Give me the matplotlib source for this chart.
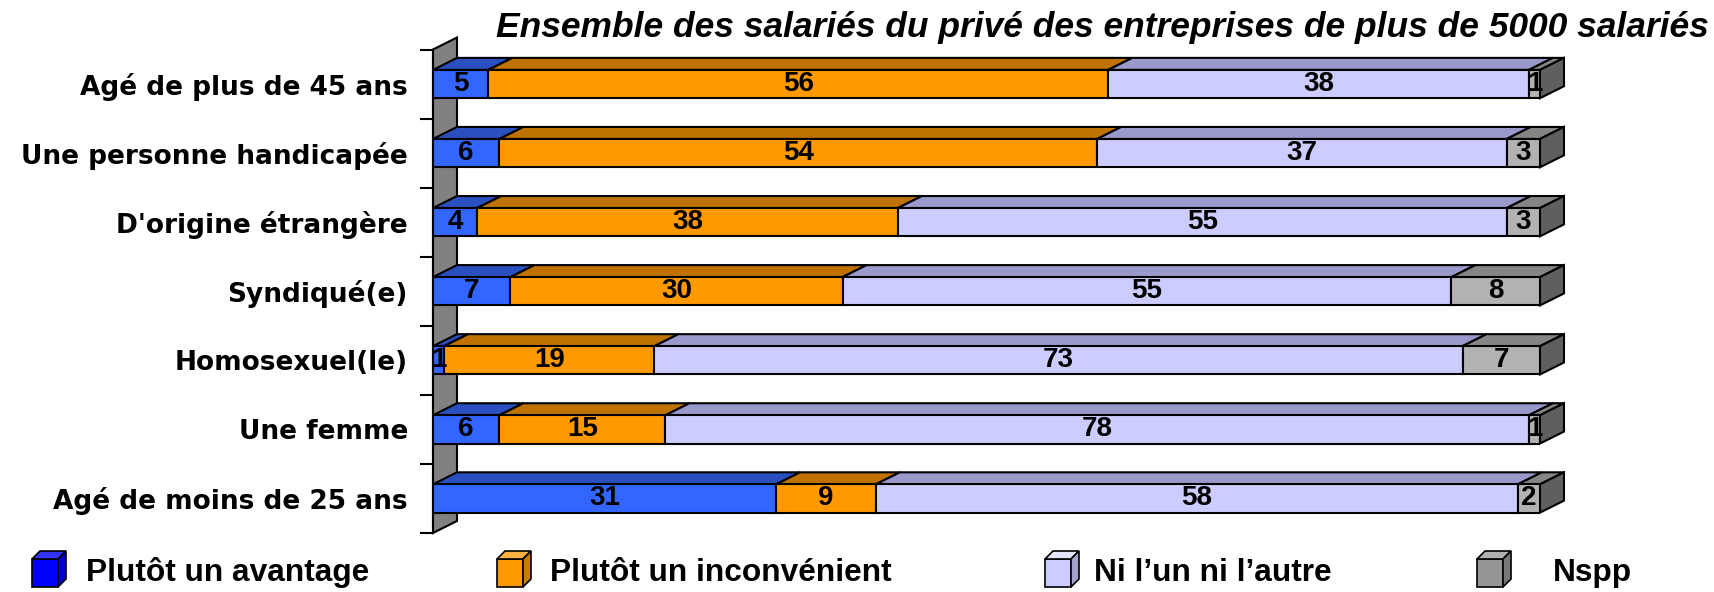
import numpy as np
import matplotlib
matplotlib.use("Agg")
import matplotlib.pyplot as plt
from matplotlib.patches import Polygon

W, H = 1715, 592

categories = ["Agé de plus de 45 ans", "Une personne handicapée",
              "D'origine étrangère", "Syndiqué(e)", "Homosexuel(le)",
              "Une femme", "Agé de moins de 25 ans"]
avantage = [5, 6, 4, 7, 1, 6, 31]
inconvenient = [56, 54, 38, 30, 19, 15, 9]
ni_lun = [38, 37, 55, 55, 73, 78, 58]
nspp = [1, 3, 3, 8, 7, 1, 2]
series_names = ["Plutôt un avantage", "Plutôt un inconvénient",
                "Ni l\u2019un ni l\u2019autre", "Nspp"]
title = "Ensemble des salariés du privé des entreprises de plus de 5000 salariés"

front_cols = ["#3366FF", "#FF9900", "#CCCCFF", "#B2B2B2"]
top_cols = ["#2A4FBF", "#BF7200", "#9999CC", "#858585"]
side_col = "#5F5F5F"
leg_cols = [("#0000FF", "#3333FF", "#0000CC"),
            ("#FF9900", "#FFB240", "#CC7A00"),
            ("#CCCCFF", "#E5E5FF", "#A3A3CC"),
            ("#969696", "#B0B0B0", "#787878")]

plt.rcParams['font.family'] = ['Liberation Sans', 'DejaVu Sans']

fig = plt.figure(figsize=(W / 100, H / 100), dpi=100)
ax = fig.add_axes([433 / W, (H - 533) / H, 1107 / W, (533 - 49.5) / H])

n = len(categories)
y = np.arange(n)[::-1]
data = np.array([avantage, inconvenient, ni_lun, nspp])
ax.set_xlim(0, 100)
ax.set_ylim(-0.5, n - 0.5)

DX = 24 / 11.07
DY = 12 / 69.1
h = 0.41

# back wall
wall = Polygon([(0, -0.5), (0, n - 0.5), (DX, n - 0.5 + DY), (DX, -0.5 + DY)],
               closed=True, facecolor="#808080", edgecolor="black", lw=1.5,
               zorder=1, clip_on=False)
ax.add_patch(wall)

for i in range(n):
    left = 0
    yc = y[i]
    for k in range(4):
        v = data[k, i]
        ax.barh(yc, v, left=left, height=h, color=front_cols[k],
                edgecolor="black", lw=1.5, zorder=3)
        top = Polygon([(left, yc + h / 2), (left + v, yc + h / 2),
                       (left + v + DX, yc + h / 2 + DY), (left + DX, yc + h / 2 + DY)],
                      closed=True, facecolor=top_cols[k], edgecolor="black",
                      lw=1.5, zorder=2, clip_on=False)
        ax.add_patch(top)
        ax.text(left + v / 2, yc, str(v), ha="center", va="center",
                fontsize=20, fontweight="bold", zorder=5)
        left += v
    side = Polygon([(left, yc - h / 2), (left, yc + h / 2),
                    (left + DX, yc + h / 2 + DY), (left + DX, yc - h / 2 + DY)],
                   closed=True, facecolor=side_col, edgecolor="black",
                   lw=1.5, zorder=2, clip_on=False)
    ax.add_patch(side)

for s in ["top", "right", "bottom"]:
    ax.spines[s].set_visible(False)
ax.spines["left"].set_linewidth(1.5)
ax.set_xticks([])
ax.set_yticks(y)
ax.set_yticklabels(categories, fontsize=19, fontweight="bold",
                   family=["DejaVu Sans"])
ax.tick_params(axis="y", which="major", length=0, pad=18)
ax.set_yticks(np.arange(-0.5, n, 1.0), minor=True)
ax.tick_params(axis="y", which="minor", length=9.4, width=1.5)

fig.text(1102 / W, 1 - 28 / H, title, ha="center", va="center",
         fontsize=25.5, fontweight="bold", fontstyle="italic")


def cube(x0, yb, w, hh, d, cols):
    f, t, s = cols
    P = lambda pts: [(px / W, 1 - py / H) for px, py in pts]
    for pts, c in [([(x0, yb), (x0 + w, yb), (x0 + w, yb - hh), (x0, yb - hh)], f),
                   ([(x0, yb - hh), (x0 + w, yb - hh), (x0 + w + d, yb - hh - d), (x0 + d, yb - hh - d)], t),
                   ([(x0 + w, yb), (x0 + w + d, yb - d), (x0 + w + d, yb - hh - d), (x0 + w, yb - hh)], s)]:
        fig.add_artist(Polygon(P(pts), closed=True, facecolor=c,
                               edgecolor="black", lw=1.2,
                               transform=fig.transFigure))


leg_marker_x = [32, 497, 1045, 1477]
leg_text_x = [86, 550, 1094, 1553]
for k in range(4):
    cube(leg_marker_x[k], 587, 26, 28, 8, leg_cols[k])
    fig.text(leg_text_x[k] / W, 1 - 573 / H, series_names[k], ha="left",
             va="center", fontsize=22.8, fontweight="bold")

fig.savefig("out.png", dpi=100)
